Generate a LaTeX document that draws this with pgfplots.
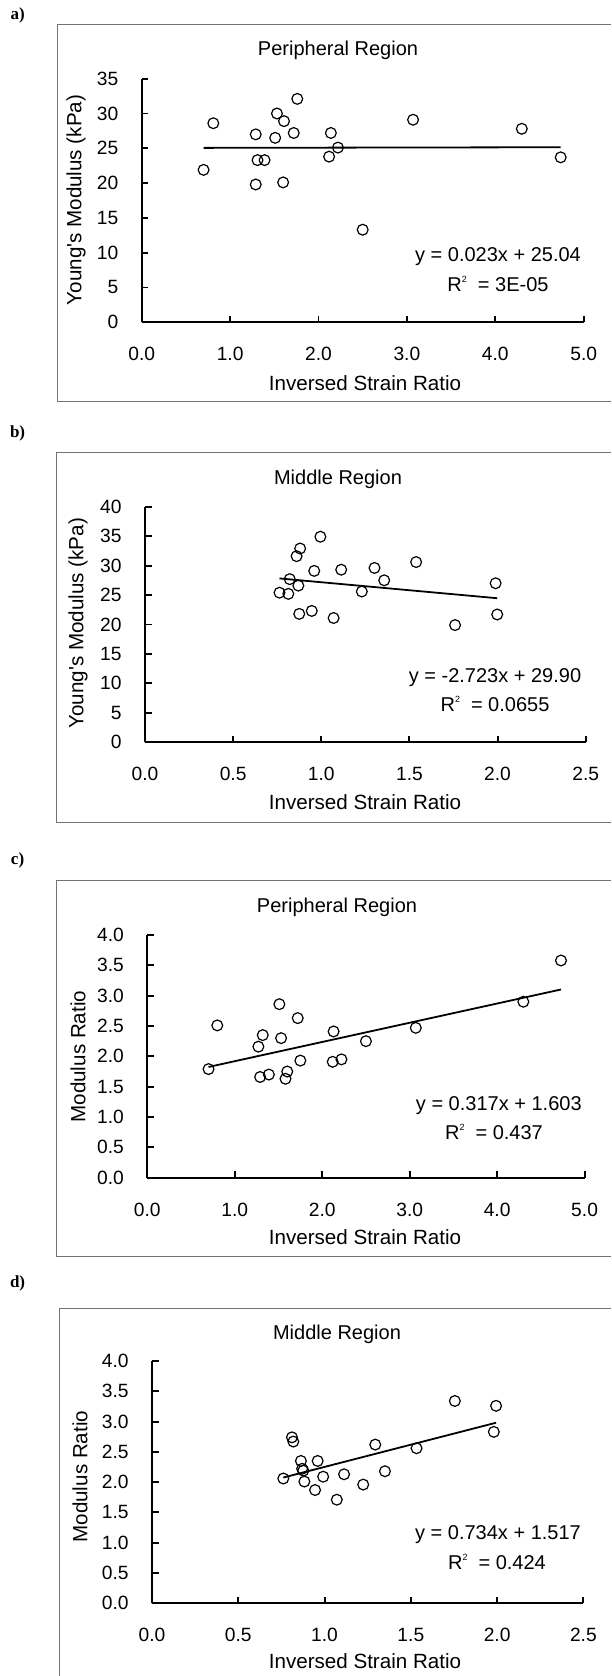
\documentclass[border=0pt]{standalone}
\usepackage{fontspec}
\setmainfont{Liberation Sans}
\newfontfamily\panelfont{Liberation Serif}
\usepackage{pgfplots}
\pgfplotsset{compat=1.18}

\newcommand{\tickfont}{\fontsize{9.6}{11}\selectfont}
\newcommand{\labfont}{\fontsize{10.3}{12}\selectfont}
\newcommand{\titfont}{\fontsize{10}{12}\selectfont}
\newcommand{\eqfont}{\fontsize{10}{12}\selectfont}
\newcommand{\Rsq}{R\raisebox{0.85ex}{\fontsize{4.5}{5}\selectfont 2}\hspace{0.55em}=}

\pgfplotsset{
  panel/.style={
    scale only axis, anchor=south west,
    axis lines*=left,
    axis line style={line width=0.95pt, black},
    tick align=inside,
    major tick length=3.3pt,
    every tick/.style={line width=0.95pt, black},
    xmin=0, ymin=0,
    clip=false,
    /pgf/number format/assume math mode=true,
    ticklabel style={font=\tickfont, inner sep=0pt},
    xticklabel style={anchor=center, yshift=-16pt,
      /pgf/number format/.cd, fixed, fixed zerofill, precision=1},
    yticklabel style={anchor=east, xshift=-11.5pt},
  },
  pts/.style={only marks, mark=o, mark size=2.7pt,
    mark options={line width=0.6pt, draw=black}},
  fit/.style={black, line width=0.9pt, mark=none},
  ratio/.style={yticklabel style={/pgf/number format/.cd, fixed, fixed zerofill, precision=1},
    ytick={0,0.5,1,1.5,2,2.5,3,3.5,4}},
}

\begin{document}
\begin{tikzpicture}
\useasboundingbox (0,0) rectangle (305.5pt,838pt);

% chart area borders (right side runs off the page)
\draw[black!55, line width=0.6pt] (305.5pt,825.85pt) -- (28.85pt,825.85pt) -- (28.85pt,637.15pt) -- (305.5pt,637.15pt);
\draw[black!55, line width=0.6pt] (305.5pt,611.85pt) -- (28.25pt,611.85pt) -- (28.25pt,426.65pt) -- (305.5pt,426.65pt);
\draw[black!55, line width=0.6pt] (305.5pt,397.65pt) -- (28.25pt,397.65pt) -- (28.25pt,209.65pt) -- (305.5pt,209.65pt);
\draw[black!55, line width=0.6pt] (305.5pt,183.85pt) -- (29.6pt,183.85pt) -- (29.6pt,0pt);

% a) peripheral, Young's modulus
\begin{axis}[panel, at={(70.85pt,676.85pt)}, width=221pt, height=121.8pt,
  xmax=5, ymax=35, xtick={0,1,2,3,4,5}, ytick={0,5,10,15,20,25,30,35}]
\addplot[pts] coordinates {
  (0.70,21.9) (0.81,28.6) (1.29,27.0) (1.29,19.8) (1.31,23.3) (1.39,23.3)
  (1.51,26.5) (1.53,30.0) (1.60,20.1) (1.61,28.9) (1.72,27.2) (1.76,32.1)
  (2.12,23.8) (2.14,27.2) (2.22,25.1) (2.50,13.3) (3.07,29.1) (4.30,27.8)
  (4.74,23.7)
};
\addplot[fit] coordinates {(0.70,25.06) (4.74,25.15)};
\end{axis}

% b) middle, Young's modulus
\begin{axis}[panel, at={(72.5pt,466.85pt)}, width=220.35pt, height=117.8pt,
  xmax=2.5, ymax=40, xtick={0,0.5,1,1.5,2,2.5}, ytick={0,5,10,15,20,25,30,35,40}]
\addplot[pts] coordinates {
  (0.763,25.4) (0.813,25.2) (0.821,27.7) (0.860,31.6) (0.880,32.9) (0.870,26.6)
  (0.875,21.8) (0.946,22.3) (0.960,29.1) (0.995,34.9) (1.070,21.1) (1.113,29.3)
  (1.230,25.6) (1.302,29.6) (1.357,27.5) (1.538,30.6) (1.759,19.9) (1.989,27.0)
  (1.998,21.7)
};
\addplot[fit] coordinates {(0.763,27.82) (1.998,24.46)};
\end{axis}

% c) peripheral, modulus ratio
\begin{axis}[panel, ratio, at={(73.65pt,249.15pt)}, width=218.65pt, height=121.35pt,
  xmax=5, ymax=4, xtick={0,1,2,3,4,5}]
\addplot[pts] coordinates {
  (0.70,1.79) (0.80,2.51) (1.27,2.16) (1.32,2.35) (1.29,1.66) (1.39,1.70)
  (1.51,2.86) (1.53,2.30) (1.58,1.63) (1.60,1.75) (1.72,2.63) (1.75,1.93)
  (2.12,1.91) (2.13,2.41) (2.22,1.95) (2.50,2.25) (3.07,2.47) (4.30,2.90)
  (4.73,3.58)
};
\addplot[fit] coordinates {(0.70,1.825) (4.73,3.102)};
\end{axis}

% d) middle, modulus ratio
\begin{axis}[panel, ratio, at={(76pt,36.35pt)}, width=215.7pt, height=121.15pt,
  xmax=2.5, ymax=4, xtick={0,0.5,1,1.5,2,2.5}]
\addplot[pts] coordinates {
  (0.761,2.06) (0.811,2.74) (0.819,2.67) (0.863,2.35) (0.870,2.22) (0.877,2.19)
  (0.883,2.01) (0.945,1.87) (0.960,2.35) (0.992,2.09) (1.071,1.71) (1.113,2.13)
  (1.224,1.96) (1.294,2.62) (1.350,2.18) (1.533,2.56) (1.755,3.34) (1.981,2.83)
  (1.994,3.26)
};
\addplot[fit] coordinates {(0.761,2.076) (1.994,2.981)};
\end{axis}

% texts
\begin{scope}[every node/.style={inner sep=0pt, anchor=center}]
\node[font=\panelfont\bfseries\fontsize{8.5}{10}\selectfont] at (8.8pt,830.4pt) {a)};
\node[font=\titfont] at (169pt,812.65pt) {Peripheral Region};
\node[font=\eqfont] at (249pt,709.5pt) {y = 0.023x + 25.04};
\node[font=\eqfont] at (249pt,696pt) {\Rsq{} 3E-05};
\node[font=\labfont] at (182.5pt,646.5pt) {Inversed Strain Ratio};
\node[font=\labfont, rotate=90] at (38pt,738pt) {Young\textquotesingle s Modulus (kPa)};

\node[font=\panelfont\bfseries\fontsize{8.5}{10}\selectfont] at (8.8pt,621.5pt) {b)};
\node[font=\titfont] at (169pt,598.5pt) {Middle Region};
\node[font=\eqfont] at (247.5pt,499.15pt) {y = -2.723x + 29.90};
\node[font=\eqfont] at (247.5pt,485.85pt) {\Rsq{} 0.0655};
\node[font=\labfont] at (182.5pt,436.85pt) {Inversed Strain Ratio};
\node[font=\labfont, rotate=90] at (39pt,526.35pt) {Young\textquotesingle s Modulus (kPa)};

\node[font=\panelfont\bfseries\fontsize{8.5}{10}\selectfont] at (8.8pt,408pt) {c)};
\node[font=\titfont] at (168.5pt,384.5pt) {Peripheral Region};
\node[font=\eqfont] at (249.4pt,285.35pt) {y = 0.317x + 1.603};
\node[font=\eqfont] at (247pt,272pt) {\Rsq{} 0.437};
\node[font=\labfont] at (182.5pt,219.35pt) {Inversed Strain Ratio};
\node[font=\labfont, rotate=90] at (39pt,309.65pt) {Modulus Ratio};

\node[font=\panelfont\bfseries\fontsize{8.5}{10}\selectfont] at (8.8pt,196.35pt) {d)};
\node[font=\titfont] at (168.5pt,171pt) {Middle Region};
\node[font=\eqfont] at (249pt,70.5pt) {y = 0.734x + 1.517};
\node[font=\eqfont] at (248.5pt,57.15pt) {\Rsq{} 0.424};
\node[font=\labfont] at (182.5pt,7.65pt) {Inversed Strain Ratio};
\node[font=\labfont, rotate=90] at (40pt,99.65pt) {Modulus Ratio};
\end{scope}
\end{tikzpicture}
\end{document}
